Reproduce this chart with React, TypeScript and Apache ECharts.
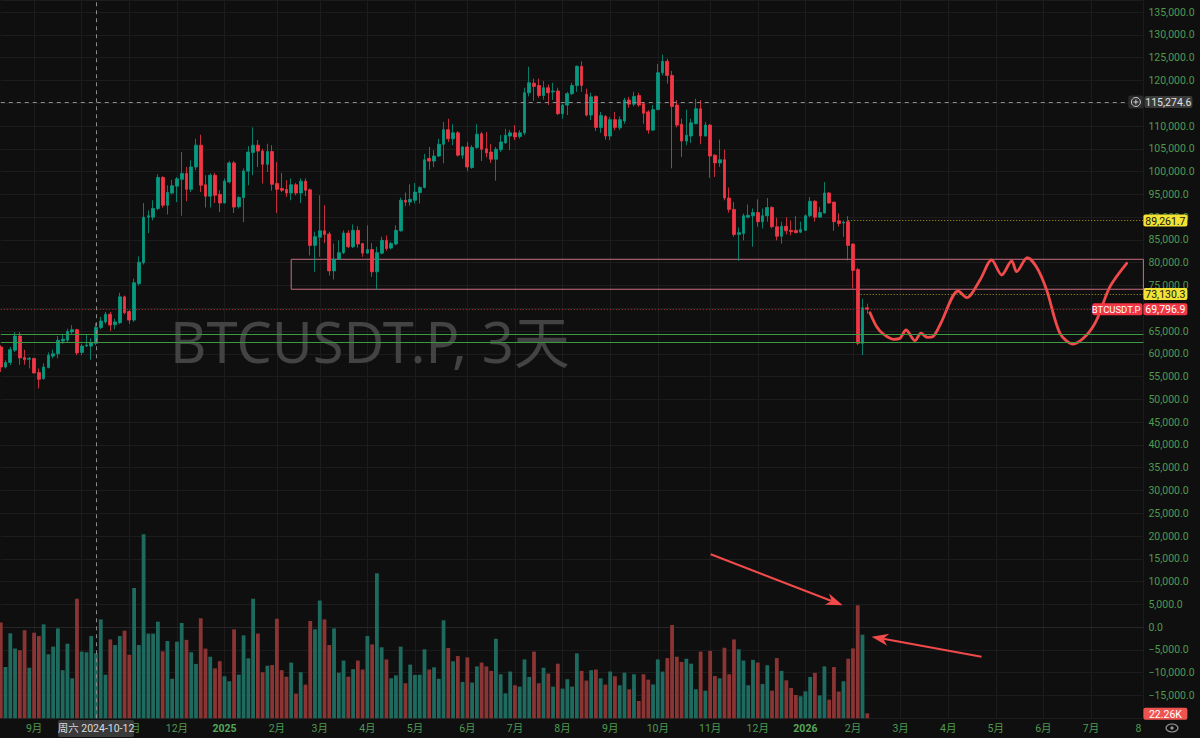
import React, { useEffect, useRef } from "react";
import * as echarts from "echarts";

// ---------- data ----------
const START_DATE_UTC = Date.UTC(2024, 7, 13); // first 3-day bar
const BAR_DAYS = 3;
const CATEGORY_COUNT = 241; // bars incl. future empty slots up to Aug 2026

// OHLC in thousands of USDT (3-day bars, BTCUSDT.P)
const opens = [
  61.5, 57.1, 58.1, 60.8, 63.9, 59.2, 58.8, 59.0, 55.9, 54.6,
  57.0, 59.5, 60.0, 62.8, 63.0, 64.8, 65.3, 60.3, 61.7, 61.7,
  62.3, 65.8, 67.0, 68.7, 66.4, 66.8, 72.5, 69.3, 67.4, 75.4,
  80.0, 90.0, 90.0, 91.9, 98.7, 92.6, 95.3, 96.8, 98.3, 99.6,
  96.1, 101.0, 105.8, 97.1, 94.6, 99.2, 95.0, 93.1, 97.7, 101.9,
  92.3, 94.3, 100.1, 104.2, 105.8, 104.5, 101.6, 104.4, 97.4, 96.3,
  96.1, 95.3, 97.1, 95.3, 97.9, 96.0, 83.8, 85.6, 87.0, 86.3,
  78.2, 80.8, 82.2, 86.5, 83.5, 87.1, 84.2, 82.1, 82.9, 78.0,
  82.1, 84.9, 83.2, 84.1, 87.0, 93.7, 93.3, 93.7, 95.4, 96.5,
  102.9, 102.3, 103.4, 106.0, 109.2, 107.2, 108.5, 103.6, 105.4, 100.9,
  105.3, 108.3, 105.0, 104.3, 102.7, 104.8, 106.3, 107.8, 108.5, 107.7,
  108.5, 117.3, 119.4, 118.9, 116.7, 118.4, 117.5, 117.7, 112.7, 114.6,
  117.1, 118.9, 123.1, 117.0, 112.4, 116.5, 109.7, 112.1, 107.8, 111.4,
  109.6, 111.1, 115.7, 114.8, 116.7, 114.9, 113.1, 109.1, 113.6, 121.7,
  124.2, 121.1, 114.6, 110.4, 106.7, 107.8, 110.5, 113.8, 107.8, 110.2,
  103.6, 101.9, 102.6, 94.2, 91.7, 86.2, 86.4, 90.0, 90.3, 91.0,
  89.0, 90.3, 92.1, 87.9, 85.8, 88.0, 87.1, 87.1, 86.7, 87.1,
  90.3, 93.5, 90.0, 90.9, 95.3, 93.3, 89.2, 88.7, 89.0, 84.1,
  78.5, 62.3, 70.1,
];
const closes = [
  57.1, 58.1, 60.9, 63.9, 59.1, 58.7, 59.0, 55.8, 54.4, 57.1,
  59.7, 60.0, 63.0, 63.2, 64.9, 65.3, 60.2, 61.7, 61.9, 62.4,
  65.8, 67.2, 68.7, 66.3, 67.0, 72.5, 69.0, 67.4, 75.6, 80.1,
  90.0, 90.3, 91.9, 98.7, 92.6, 95.4, 96.9, 98.4, 99.6, 96.1,
  101.0, 105.8, 97.0, 94.6, 99.2, 94.8, 93.1, 97.9, 101.9, 92.2,
  94.3, 100.1, 104.3, 105.8, 104.5, 101.6, 104.4, 97.2, 96.1, 95.9,
  95.3, 97.1, 95.3, 97.9, 95.9, 83.8, 85.7, 87.0, 86.2, 78.2,
  80.8, 82.2, 86.5, 83.5, 87.1, 84.1, 82.1, 82.9, 78.0, 82.2,
  84.9, 83.1, 84.2, 87.1, 93.7, 93.3, 93.9, 95.5, 96.5, 102.6,
  102.3, 103.4, 106.0, 109.2, 107.2, 108.5, 103.6, 105.4, 101.0, 105.3,
  108.2, 104.9, 104.1, 102.7, 104.9, 106.5, 108.0, 108.5, 107.6, 108.5,
  117.3, 119.5, 118.7, 116.7, 118.4, 117.3, 117.7, 112.7, 114.6, 117.1,
  118.9, 123.1, 118.9, 112.4, 116.4, 109.7, 112.3, 107.8, 111.4, 109.7,
  111.4, 115.7, 114.8, 116.5, 114.6, 112.8, 109.1, 113.6, 121.7, 124.2,
  121.1, 114.3, 110.2, 106.7, 108.0, 110.7, 113.8, 107.8, 110.2, 103.4,
  101.9, 102.6, 94.2, 91.7, 86.2, 86.6, 90.3, 90.4, 91.0, 89.0,
  90.3, 92.1, 87.9, 85.8, 88.0, 87.0, 86.8, 86.6, 87.3, 90.3,
  93.5, 90.0, 91.0, 95.3, 93.1, 89.0, 88.6, 88.9, 83.8, 78.3,
  62.3, 70.1, 69.7969,
];
const lows = [
  56.0, 56.8, 57.5, 60.4, 57.6, 57.6, 56.8, 55.7, 52.4, 54.3,
  56.8, 59.0, 59.0, 62.2, 62.6, 64.4, 59.7, 59.7, 61.5, 58.7,
  61.9, 65.4, 66.6, 65.0, 65.4, 66.5, 68.7, 66.6, 67.0, 75.0,
  79.6, 86.5, 89.3, 91.5, 92.1, 90.6, 95.0, 93.3, 90.3, 93.5,
  95.5, 100.3, 95.5, 92.1, 92.1, 93.1, 91.1, 93.0, 97.4, 90.9,
  91.9, 88.9, 97.0, 99.2, 101.0, 97.4, 99.9, 95.8, 90.9, 95.5,
  94.4, 93.7, 94.8, 93.1, 94.6, 81.6, 78.0, 81.3, 84.3, 77.2,
  76.3, 80.7, 81.9, 83.2, 83.2, 83.3, 81.3, 82.0, 76.9, 74.1,
  81.8, 82.6, 82.9, 83.8, 86.8, 92.4, 92.5, 93.0, 93.0, 96.3,
  100.4, 101.0, 103.2, 101.8, 106.5, 105.8, 103.3, 102.8, 100.1, 100.6,
  105.0, 102.3, 103.1, 101.9, 98.0, 104.3, 106.1, 104.7, 106.9, 107.2,
  108.0, 116.5, 115.5, 116.2, 115.8, 114.6, 115.7, 112.4, 111.6, 112.4,
  116.8, 117.5, 117.5, 112.1, 111.3, 108.9, 108.5, 107.0, 106.9, 109.1,
  109.1, 110.5, 114.0, 114.3, 114.2, 110.5, 108.3, 108.9, 113.5, 121.1,
  119.3, 100.7, 109.7, 103.2, 105.8, 106.3, 110.4, 106.0, 107.7, 98.6,
  98.8, 101.0, 93.7, 91.0, 85.7, 80.4, 84.9, 89.7, 83.5, 87.9,
  87.5, 89.0, 87.5, 84.9, 84.2, 86.2, 86.0, 86.4, 86.5, 87.0,
  90.0, 89.0, 89.9, 90.8, 93.0, 87.0, 87.9, 85.7, 80.5, 74.3,
  61.9, 59.7, 68.8,
];
const highs = [
  61.9, 58.6, 61.5, 64.8, 64.8, 60.9, 59.3, 59.1, 56.8, 57.9,
  60.3, 60.9, 63.9, 64.4, 65.5, 66.3, 65.5, 62.2, 64.1, 63.4,
  66.8, 68.1, 69.2, 69.2, 67.7, 73.4, 72.8, 69.6, 76.5, 81.4,
  93.1, 91.5, 93.7, 99.4, 99.0, 97.0, 98.2, 98.8, 104.3, 101.0,
  102.5, 107.2, 108.1, 99.2, 99.6, 99.7, 95.9, 98.5, 102.3, 102.3,
  94.6, 100.7, 105.6, 109.7, 106.9, 105.0, 106.1, 105.8, 102.1, 99.7,
  98.1, 98.5, 97.5, 98.5, 98.5, 96.3, 86.8, 94.8, 92.6, 86.8,
  84.2, 84.9, 87.1, 87.1, 88.4, 88.0, 84.3, 88.2, 84.3, 83.5,
  85.7, 86.0, 84.6, 88.2, 94.3, 95.4, 97.2, 97.5, 96.8, 103.9,
  105.4, 104.7, 107.2, 110.9, 111.6, 110.4, 108.9, 105.6, 106.5, 105.8,
  110.4, 108.7, 108.7, 106.1, 105.4, 108.0, 109.4, 109.2, 110.2, 109.1,
  118.4, 123.0, 120.4, 120.4, 119.9, 119.1, 119.5, 118.4, 114.9, 117.5,
  119.5, 123.3, 124.2, 118.2, 117.3, 116.7, 113.1, 112.4, 112.0, 113.1,
  112.1, 116.2, 116.4, 117.5, 117.3, 115.1, 113.5, 114.6, 123.6, 125.7,
  124.8, 122.1, 115.7, 111.6, 113.6, 111.6, 116.0, 115.7, 110.9, 110.4,
  103.8, 107.0, 104.8, 96.5, 93.3, 87.7, 90.8, 92.8, 91.9, 93.9,
  91.9, 94.2, 92.4, 89.9, 89.0, 90.0, 89.3, 90.2, 89.0, 90.6,
  94.4, 93.7, 92.2, 97.7, 95.5, 93.3, 90.8, 89.3, 90.2, 84.2,
  78.9, 72.1, 71.0,
];
// volume, thousands
const volumesK = [
  426, 228, 378, 311, 303, 392, 225, 381, 366, 418,
  285, 319, 400, 214, 332, 178, 532, 297, 294, 366,
  289, 440, 194, 351, 326, 366, 390, 283, 580, 326,
  819, 377, 377, 430, 298, 344, 176, 341, 424, 349,
  294, 242, 445, 310, 274, 222, 254, 187, 165, 396,
  194, 369, 267, 532, 377, 205, 234, 237, 443, 214,
  185, 248, 110, 205, 150, 433, 396, 524, 440, 326,
  400, 203, 257, 185, 219, 257, 217, 366, 329, 645,
  316, 262, 178, 191, 319, 156, 239, 193, 194, 307,
  217, 227, 176, 436, 313, 254, 277, 162, 271, 159,
  231, 248, 231, 211, 354, 196, 111, 208, 147, 141,
  262, 184, 297, 156, 225, 199, 141, 243, 132, 174,
  141, 289, 211, 168, 214, 217, 178, 150, 208, 187,
  147, 203, 129, 196, 77, 196, 172, 151, 262, 208,
  268, 415, 274, 251, 265, 243, 129, 297, 123, 300,
  188, 178, 314, 196, 351, 307, 257, 147, 260, 248,
  153, 236, 123, 268, 211, 169, 135, 104, 98, 120,
  184, 202, 102, 231, 83, 228, 119, 165, 265, 311,
  503, 372, 22.26,
];

// hand-drawn projection (bar position, price in thousands)
const projIndex = [
  182.57, 183.98, 185.37, 187.47, 188.87, 190.13, 192.02, 193.28, 194.61,
  195.74, 197.27, 201.12, 202.88, 205.68, 208.13, 210.23, 212.33, 213.38,
  215.61, 217.58, 219.68, 222.48, 225.27, 228.09, 230.19, 232.98, 236.49,
];
const projPrice = [
  69.03, 65.96, 64.35, 63.19, 63.41, 65.23, 62.88, 64.51, 63.63,
  63.76, 66.33, 73.79, 72.32, 76.21, 80.6, 77.3, 80.38, 78.03,
  81.1, 79.0, 74.0, 64.5, 62.16, 64.14, 67.43, 74.74, 79.87,
];

const supportLines = [64290, 62530];
const lastPrice = 69796.9;
const crossPrice = 115274.6;
const crossIndex = 20;
const alertPrices = [89261.7, 73130.3];
const alertStarts = [178, 180];
const boxRange = [80750, 74170];
const boxStartIndex = 61;
const hiddenPriceTicks = [115000, 70000, -20000]; // covered by price badges
const volumeLabel = "22.26K";
const crossDateLabel = "周六 2024-10-12";
const watermark = "BTCUSDT.P, 3天";
const symbolLabel = "BTCUSDT.P";

// ---------- styles ----------
const BG = "#0f0f0f";
const UP = "#089981";
const DOWN = "#f23645";
const VOL_UP = "#1e6a5f";
const VOL_DOWN = "#8a3434";
const AXIS_TXT = "#4f9a52";
const GRID_LINE = "#1c1c1c";
const FONT = "Roboto, 'Noto Sans CJK SC', sans-serif";

const pad = (n: number) => String(n).padStart(2, "0");
const catDates = Array.from(
  { length: CATEGORY_COUNT },
  (_, i) => new Date(START_DATE_UTC + i * BAR_DAYS * 86400000)
);
const categories = catDates.map(
  (d) => `${d.getUTCFullYear()}-${pad(d.getUTCMonth() + 1)}-${pad(d.getUTCDate())}`
);
const isMonthStart = (i: number) =>
  i > 0 && catDates[i].getUTCMonth() !== catDates[i - 1].getUTCMonth();
// the month label sitting under the crosshair date box is hidden
const showMonthLabel = (i: number) =>
  isMonthStart(i) && Math.abs(i - crossIndex) > 4;

const fmtPrice = (v: number) => {
  const s = Math.abs(v).toLocaleString("en-US", {
    minimumFractionDigits: 1,
    maximumFractionDigits: 1,
  });
  return v < 0 ? "\u2212" + s : s;
};

function buildOption(): any {
  const candleData = opens.map((o, i) => [
    o * 1000,
    closes[i] * 1000,
    lows[i] * 1000,
    highs[i] * 1000,
  ]);
  const volData = volumesK.map((v, i) => ({
    value: v,
    itemStyle: { color: closes[i] >= opens[i] ? VOL_UP : VOL_DOWN },
  }));
  const projData = projIndex.map((x, i) => [x, projPrice[i] * 1000]);
  const last = categories[CATEGORY_COUNT - 1];

  return {
    animation: false,
    backgroundColor: BG,
    textStyle: { fontFamily: FONT },
    grid: { left: 0.78, right: 56.6, top: 0, bottom: 19.7, containLabel: false },
    xAxis: [
      {
        type: "category",
        data: categories,
        boundaryGap: false,
        axisLine: { show: true, lineStyle: { color: "#262626" } },
        axisTick: { show: false },
        splitLine: {
          show: true,
          interval: (i: number) => isMonthStart(i),
          lineStyle: { color: GRID_LINE, width: 1 },
        },
        axisLabel: {
          interval: (i: number) => showMonthLabel(i),
          margin: 5,
          color: AXIS_TXT,
          fontSize: 10.5,
          fontFamily: FONT,
          formatter: (value: string) => {
            const idx = categories.indexOf(value);
            const d = catDates[idx];
            const m = d.getUTCMonth() + 1;
            if (m === 1) return `{yr|${d.getUTCFullYear()}}`;
            if (idx === CATEGORY_COUNT - 1) return `{edge|${m}}`;
            return `${m}月`;
          },
          rich: {
            yr: { fontWeight: "bold", color: "#55a658", fontSize: 10.5, fontFamily: FONT },
            edge: { color: AXIS_TXT, fontSize: 10.5, padding: [0, 10, 0, 0], fontFamily: FONT },
          },
        },
      },
      { type: "value", min: 0, max: CATEGORY_COUNT - 1, show: false },
    ],
    yAxis: [
      {
        type: "value",
        position: "right",
        min: -20000,
        max: 137660,
        interval: 5000,
        axisLine: { show: false },
        axisTick: { show: false },
        splitLine: { show: true, lineStyle: { color: GRID_LINE, width: 1 } },
        axisLabel: {
          showMaxLabel: false,
          color: AXIS_TXT,
          fontSize: 10.5,
          margin: 5,
          fontFamily: FONT,
          formatter: (v: number) =>
            hiddenPriceTicks.some((h) => Math.abs(h - v) < 1) ? "" : fmtPrice(v),
        },
      },
      { type: "value", min: 0, max: 3196.4, show: false },
    ],
    series: [
      {
        type: "bar",
        name: "volume",
        xAxisIndex: 0,
        yAxisIndex: 1,
        barWidth: 3.8,
        data: volData,
        z: 1,
        silent: true,
      },
      {
        type: "candlestick",
        name: "BTCUSDT.P",
        xAxisIndex: 0,
        yAxisIndex: 0,
        barWidth: 3.2,
        data: candleData,
        z: 3,
        silent: true,
        itemStyle: {
          color: UP,
          color0: DOWN,
          borderColor: UP,
          borderColor0: DOWN,
          borderWidth: 0.8,
        },
        markLine: {
          silent: true,
          symbol: ["none", "none"],
          label: { show: false },
          data: [
            { yAxis: supportLines[0], lineStyle: { color: "#3c9a43", type: "solid", width: 1 } },
            { yAxis: supportLines[1], lineStyle: { color: "#3c9a43", type: "solid", width: 1 } },
            { yAxis: lastPrice, lineStyle: { color: "#b3323b", type: [1, 2], width: 1 } },
            { yAxis: crossPrice, lineStyle: { color: "#8c8c8c", type: [4, 4], width: 1 } },
            { xAxis: categories[crossIndex], lineStyle: { color: "#8c8c8c", type: [4, 4], width: 1 } },
            [
              { coord: [categories[alertStarts[0]], alertPrices[0]], lineStyle: { color: "#a89b22", type: [1, 2], width: 1 } },
              { coord: [last, alertPrices[0]] },
            ],
            [
              { coord: [categories[alertStarts[1]], alertPrices[1]], lineStyle: { color: "#a89b22", type: [1, 2], width: 1 } },
              { coord: [last, alertPrices[1]] },
            ],
          ],
        },
        markArea: {
          silent: true,
          itemStyle: { color: "rgba(0,0,0,0)", borderColor: "#c66e81", borderWidth: 1 },
          data: [
            [
              { coord: [categories[boxStartIndex], boxRange[0]] },
              { coord: [last, boxRange[1]] },
            ],
          ],
        },
      },
      {
        type: "line",
        name: "projection",
        xAxisIndex: 1,
        yAxisIndex: 0,
        data: projData,
        smooth: 0.3,
        symbol: "none",
        silent: true,
        z: 4,
        lineStyle: { color: "#f04a4a", width: 2.8, cap: "round", join: "round" },
      },
    ],
  };
}

function badge(x: number, yc: number, w: number, text: string, fill: string, color: string, align = "center", fontSize = 10.5): any[] {
  const h = 12;
  return [
    { type: "rect", z: 100, shape: { x, y: yc - h / 2, width: w, height: h, r: 2 }, style: { fill } },
    {
      type: "text",
      z: 101,
      style: {
        text,
        x: align === "center" ? x + w / 2 : x + w - 2,
        y: yc + 0.5,
        fill: color,
        font: `${fontSize}px ${FONT}`,
        align,
        verticalAlign: "middle",
        textAlign: align,
        textVerticalAlign: "middle",
      },
    },
  ];
}

function arrow(tipX: number, tipY: number, tailX: number, tailY: number, color: string): any[] {
  const dx = tipX - tailX;
  const dy = tipY - tailY;
  const len = Math.sqrt(dx * dx + dy * dy);
  const ux = dx / len;
  const uy = dy / len;
  const headLen = 17;
  const half = 6;
  const bx = tipX - ux * headLen;
  const by = tipY - uy * headLen;
  const nx = -uy;
  const ny = ux;
  const notchX = tipX - ux * headLen * 0.7;
  const notchY = tipY - uy * headLen * 0.7;
  return [
    {
      type: "polyline",
      z: 100,
      shape: { points: [[tailX, tailY], [notchX, notchY]] },
      style: { stroke: color, lineWidth: 2, fill: "none" },
    },
    {
      type: "polygon",
      z: 100,
      shape: {
        points: [
          [tipX, tipY],
          [bx + nx * half, by + ny * half],
          [notchX, notchY],
          [bx - nx * half, by - ny * half],
        ],
      },
      style: { fill: color },
    },
  ];
}

function buildGraphics(chart: any): any[] {
  const yPx = (p: number) => chart.convertToPixel({ yAxisIndex: 0 }, p) as number;
  const vPx = (v: number) => chart.convertToPixel({ yAxisIndex: 1 }, v) as number;
  const xPx = (i: number) => chart.convertToPixel({ xAxisIndex: 0 }, categories[i]) as number;
  const right = xPx(CATEGORY_COUNT - 1);
  const els: any[] = [];

  // watermark
  els.push({
    type: "text",
    z: 0,
    style: {
      text: watermark,
      x: 170,
      y: yPx(62900),
      fill: "#434343",
      font: `normal 56px 'Noto Sans', 'Noto Sans CJK SC', sans-serif`,
      verticalAlign: "middle",
      textVerticalAlign: "middle",
    },
  });

  // crosshair price label with (+) button
  const yc = yPx(crossPrice);
  els.push({ type: "rect", z: 100, shape: { x: right - 15, y: yc - 6.5, width: 15, height: 13, r: 2 }, style: { fill: "#2b2b2b" } });
  els.push({ type: "circle", z: 101, shape: { cx: right - 7.5, cy: yc, r: 4.5 }, style: { fill: "none", stroke: "#cfcfcf", lineWidth: 1 } });
  els.push({ type: "line", z: 101, shape: { x1: right - 10, y1: yc, x2: right - 5, y2: yc }, style: { stroke: "#cfcfcf", lineWidth: 1 } });
  els.push({ type: "line", z: 101, shape: { x1: right - 7.5, y1: yc - 2.5, x2: right - 7.5, y2: yc + 2.5 }, style: { stroke: "#cfcfcf", lineWidth: 1 } });
  els.push(...badge(right + 1, yc, 48, fmtPrice(crossPrice), "#3a3a3a", "#e2e2e2"));

  // alert badges
  alertPrices.forEach((p) => els.push(...badge(right, yPx(p), 44, fmtPrice(p), "#f2e233", "#141414")));
  // last price
  els.push(...badge(right - 51, yPx(lastPrice), 50, symbolLabel, DOWN, "#ffffff", "right", 9.5));
  els.push(...badge(right, yPx(lastPrice), 44, fmtPrice(lastPrice), DOWN, "#ffffff"));
  // volume badge
  const lastVol = volumesK[volumesK.length - 1];
  els.push(...badge(right, vPx(lastVol) + 0.5, 44, volumeLabel, "#ef5350", "#ffffff"));

  // crosshair date label
  const cx = xPx(crossIndex);
  els.push({ type: "rect", z: 100, shape: { x: cx - 38, y: 720, width: 76, height: 17, r: 2 }, style: { fill: "#3a3a3a" } });
  els.push({
    type: "text",
    z: 101,
    style: {
      text: crossDateLabel,
      x: cx,
      y: 728.5,
      fill: "#dcdcdc",
      font: `10.5px ${FONT}`,
      align: "center",
      verticalAlign: "middle",
      textAlign: "center",
      textVerticalAlign: "middle",
    },
  });

  // settings icon bottom-right
  els.push({ type: "ellipse", z: 100, shape: { cx: 1172, cy: 728, rx: 6, ry: 4 }, style: { fill: "none", stroke: "#9a9a9a", lineWidth: 1.2 } });
  els.push({ type: "circle", z: 100, shape: { cx: 1172, cy: 728, r: 1.6 }, style: { fill: "#9a9a9a" } });

  // arrows pointing at the last volume bars
  const i1 = volumesK.length - 3;
  const i2 = volumesK.length - 2;
  const t1x = xPx(i1) - 15;
  const t1y = vPx(volumesK[i1]);
  els.push(...arrow(t1x, t1y, t1x - 132, t1y - 51, "#f24a4a"));
  const t2x = xPx(i2) + 9;
  const t2y = vPx(volumesK[i2]) + 2;
  els.push(...arrow(t2x, t2y, t2x + 110, t2y + 20, "#f24a4a"));

  return els;
}

export default function App() {
  const ref = useRef<HTMLDivElement>(null);
  useEffect(() => {
    document.body.style.margin = "0";
    document.body.style.background = BG;
    const chart = echarts.init(ref.current!, null, { renderer: "svg" });
    chart.setOption(buildOption());
    chart.setOption({ graphic: buildGraphics(chart) });
    return () => chart.dispose();
  }, []);
  return (
    <div
      ref={ref}
      style={{ position: "absolute", left: 0, top: 0, width: 1200, height: 738, background: BG }}
    />
  );
}
